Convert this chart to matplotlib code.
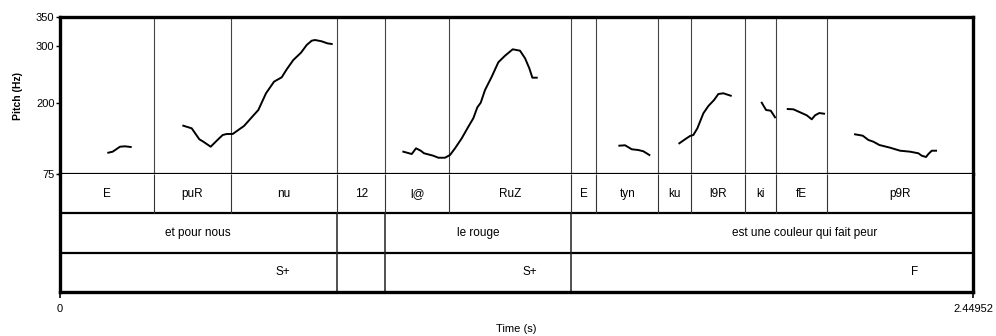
import matplotlib
matplotlib.use("Agg")
import matplotlib.pyplot as plt
from matplotlib import font_manager

names = {f.name for f in font_manager.fontManager.ttflist}
FONT = "Liberation Sans Narrow" if "Liberation Sans Narrow" in names else "Liberation Sans"
plt.rcParams["font.family"] = [FONT, "DejaVu Sans"]

# ---------------- data ----------------
t_end = 2.44952
f_min, f_max = 75, 350
y_ticks = [75, 200, 300, 350]

# pitch contour segments (time s, Hz)
seg_t = [
    [0.1296, 0.1414, 0.1610, 0.1744, 0.1897],
    [0.3308, 0.3534, 0.3738, 0.3845, 0.4043, 0.4204, 0.4365, 0.4473, 0.4634, 0.4784,
     0.4937, 0.5144, 0.5321, 0.5527, 0.5742, 0.5949, 0.6083, 0.6260, 0.6466, 0.6619,
     0.6753, 0.6842, 0.7022, 0.7172, 0.7290],
    [0.9211, 0.9437, 0.9552, 0.9678, 0.9767, 1.0016, 1.0150, 1.0330, 1.0464, 1.0598,
     1.0778, 1.0955, 1.1089, 1.1197, 1.1288, 1.1403, 1.1583, 1.1760, 1.1940, 1.2146,
     1.2342, 1.2477, 1.2592, 1.2673, 1.2791],
    [1.5007, 1.5160, 1.5340, 1.5517, 1.5651, 1.5812],
    [1.6617, 1.6770, 1.6904, 1.6992, 1.7100, 1.7261, 1.7395, 1.7548, 1.7663, 1.7797, 1.7996],
    [1.8827, 1.8943, 1.9069, 1.9184],
    [1.9525, 1.9676, 1.9855, 2.0035, 2.0169, 2.0258, 2.0373, 2.0499],
    [2.1331, 2.1537, 2.1688, 2.1822, 2.1983, 2.2270, 2.2538, 2.2807, 2.3029, 2.3121,
     2.3236, 2.3298, 2.3389, 2.3504],
]
seg_f = [
    [112.3, 114.1, 122.8, 123.5, 122.3],
    [159.6, 155.0, 135.8, 131.6, 122.8, 133.3, 143.3, 145.1, 145.1, 152.1,
     159.1, 174.3, 187.1, 216.4, 236.7, 244.4, 258.4, 274.7, 287.5, 301.0,
     308.5, 309.7, 307.4, 303.9, 302.7],
    [114.1, 110.0, 120.0, 115.8, 111.3, 107.0, 103.5, 103.5, 108.3, 120.0,
     137.5, 157.8, 172.6, 191.8, 199.9, 222.1, 245.4, 270.7, 282.2, 293.4,
     291.0, 277.7, 260.1, 243.7, 243.7],
    [124.6, 125.3, 118.3, 117.0, 114.8, 108.3],
    [128.8, 135.8, 141.6, 143.3, 155.0, 181.3, 194.1, 204.6, 215.1, 216.4, 212.1],
    [199.9, 187.1, 185.9, 174.3],
    [188.8, 188.3, 183.1, 177.8, 170.8, 177.8, 181.8, 180.6],
    [144.5, 142.1, 134.6, 131.6, 125.8, 121.1, 115.8, 114.1, 111.3, 107.0,
     104.8, 110.0, 115.8, 115.8],
]

# tier 1 (syllables)
tier1_bounds = [0.253, 0.458, 0.744, 0.873, 1.045, 1.370, 1.439, 1.605, 1.692, 1.839, 1.920, 2.059]
tier1_labels = ["E", "puR", "nu", "12", "l@", "RuZ", "E", "tyn", "ku", "l9R", "ki", "fE", "p9R"]

# tier 2 (words)
tier2_bounds = [0.744, 0.873, 1.370]
tier2_labels = ["et pour nous", "le rouge", "est une couleur qui fait peur"]
tier2_label_t = [0.370, 1.122, 1.999]

# tier 3 (tones)
tier3_bounds = [0.744, 0.873, 1.370]
tier3_labels = ["S+", "S+", "F"]
tier3_label_t = [0.598, 1.261, 2.294]

# ---------------- figure ----------------
W, H = 996, 336
fig = plt.figure(figsize=(W / 100, H / 100), dpi=100)

def fx(px):
    return px / W

def fy(py):
    return 1 - py / H

L, R = 60, 973
top_p, bot_p, bot_t = 17, 174, 292
axp = fig.add_axes([fx(L), fy(bot_p), fx(R - L), fy(top_p) - fy(bot_p)])
axt = fig.add_axes([fx(L), fy(bot_t), fx(R - L), fy(bot_p) - fy(bot_t)])

lw_frame = 2.4
lw_sep = 1.6
lw_vert = 0.8

# pitch axes
axp.set_xlim(0, t_end)
axp.set_ylim(f_min, f_max)
for ts, fs in zip(seg_t, seg_f):
    axp.plot(ts, fs, color="black", lw=1.4, solid_joinstyle="round", zorder=3)
for b in tier1_bounds:
    axp.axvline(b, color="#444444", lw=lw_vert, zorder=2)
axp.set_xticks([])
axp.set_yticks(y_ticks)
axp.set_yticklabels([str(v) for v in y_ticks])
axp.tick_params(axis="y", direction="out", length=3, width=1, pad=1, labelsize=8)
for side in ["top", "left", "right"]:
    axp.spines[side].set_linewidth(lw_frame)
axp.spines["bottom"].set_linewidth(lw_sep)
axp.set_ylabel("Pitch (Hz)", fontsize=7.5, fontweight="bold", labelpad=9)

# tiers axes
axt.set_xlim(0, t_end)
axt.set_ylim(0, 3)
axt.axhline(2, color="black", lw=lw_sep)
axt.axhline(1, color="black", lw=lw_sep)
axt.vlines(tier1_bounds, 2, 3, color="#333333", lw=lw_vert)
axt.vlines(tier2_bounds, 1, 2, color="#222222", lw=1.1)
axt.vlines(tier3_bounds, 0, 1, color="#222222", lw=1.1)

edges = [0] + tier1_bounds + [t_end]
for i, lab in enumerate(tier1_labels):
    axt.text((edges[i] + edges[i + 1]) / 2, 2.5, lab, ha="center", va="center", fontsize=8.5)
for t, lab in zip(tier2_label_t, tier2_labels):
    axt.text(t, 1.5, lab, ha="center", va="center", fontsize=8.5)
for t, lab in zip(tier3_label_t, tier3_labels):
    axt.text(t, 0.5, lab, ha="center", va="center", fontsize=8.5)

axt.set_yticks([])
axt.set_xticks([0, t_end])
axt.set_xticklabels(["0", "2.44952"])
axt.tick_params(axis="x", direction="out", length=4, width=1.2, pad=5, labelsize=8)
for side in ["bottom", "left", "right"]:
    axt.spines[side].set_linewidth(lw_frame)
axt.spines["top"].set_visible(False)
axt.set_xlabel("Time (s)", fontsize=8, labelpad=7)

fig.savefig("out.png", dpi=100)
